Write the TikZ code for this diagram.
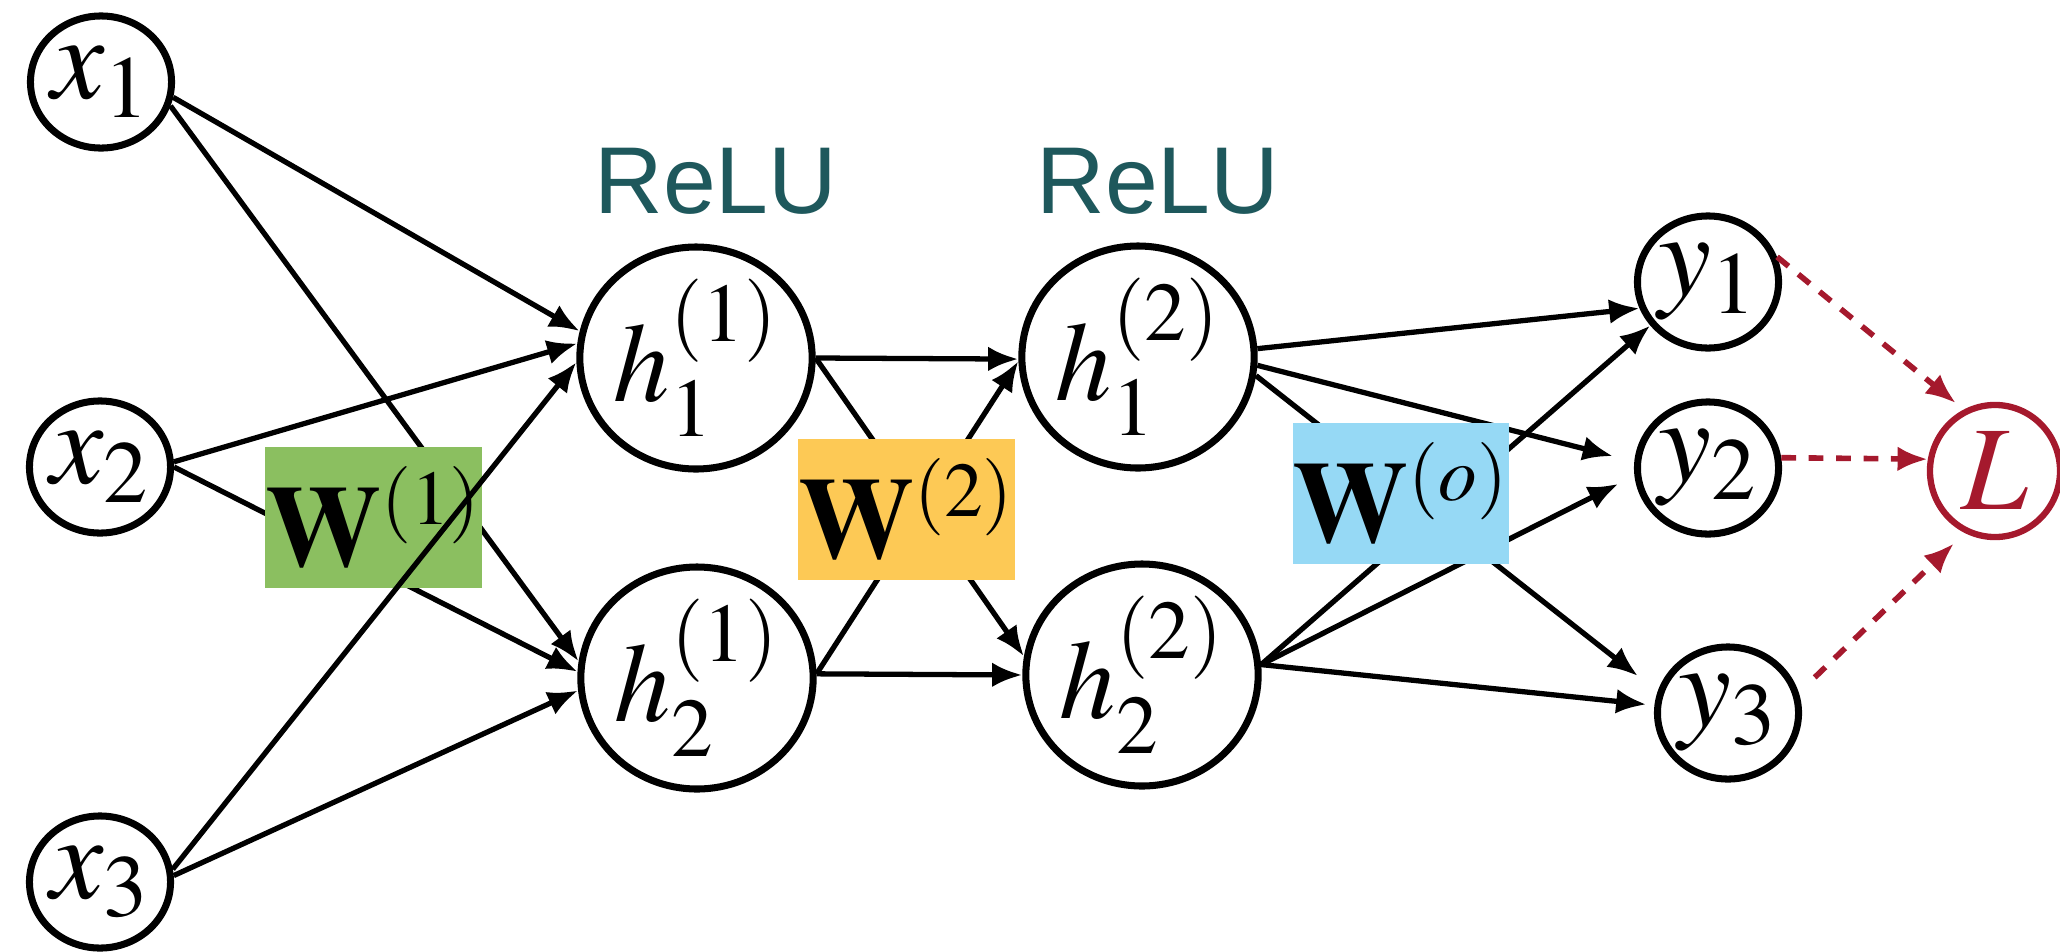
\documentclass[tikz,border=0pt]{standalone}
\usepackage{amsmath}
\usepackage{mathptmx}
\usepackage[no-math]{fontspec}
\newfontfamily\relufont{Liberation Sans}
\usepackage{tikz}
\usetikzlibrary{arrows.meta,shapes.geometric}
\DeclareMathSizes{33}{33}{22}{15}

\definecolor{wgreen}{RGB}{139,191,96}
\definecolor{worange}{RGB}{253,201,85}
\definecolor{wblue}{RGB}{150,217,245}
\definecolor{reluteal}{RGB}{30,88,92}
\definecolor{lossred}{RGB}{165,25,45}

\begin{document}
\begin{tikzpicture}[->, >={Latex[length=8.6pt,width=7pt]}, line width=1.5pt,
    x=0.01cm, y=-0.01cm,
    neuron/.style={ellipse, draw, line width=2pt, inner sep=0pt,
      minimum width=1.41cm, minimum height=1.32cm, font=\fontsize{34}{40}\selectfont},
    hneuron/.style={neuron, minimum width=1.88cm, minimum height=1.83cm,
      font=\fontsize{32}{38}\selectfont},
    loss/.style={neuron, draw=lossred, text=lossred, line width=1.8pt,
      minimum width=1.30cm, minimum height=1.32cm},
    wbox/.style={fill=#1, minimum width=2.15cm, minimum height=1.41cm, inner sep=0pt,
      font=\fontsize{33}{40}\selectfont},
    relu/.style={text=reluteal, font={\relufont\fontsize{27}{32}\selectfont}},
    lossedge/.style={draw=lossred, dash pattern=on 4.2pt off 3.6pt, line width=1.6pt}]
  \useasboundingbox (0,0) rectangle (2060,951);

  \node[neuron]  (x1)  at (101,82)  {$x_1$};
  \node[neuron]  (x2)  at (100,467) {$x_2$};
  \node[neuron]  (x3)  at (100,882) {$x_3$};
  \node[hneuron] (h11) at (696,358) {$h_1^{(1)}$};
  \node[hneuron] (h21) at (697,678) {$h_2^{(1)}$};
  \node[hneuron] (h12) at (1138,357) {$h_1^{(2)}$};
  \node[hneuron] (h22) at (1142,675) {$h_2^{(2)}$};
  \node[neuron]  (y1)  at (1708,282) {$y_1$};
  \node[neuron]  (y2)  at (1708,468) {$y_2$};
  \node[neuron]  (y3)  at (1728,713) {$y_3$};
  \node[loss]    (L)   at (1995,471) {$L$};

  \node[relu] (relu1) at (716,181)  {ReLU};
  \node[relu] (relu2) at (1158,181) {ReLU};

  \path (x1.-12) edge (h11.167)
        (x1.-19) edge (h21.172)
        (x2.4)   edge (h11.173)
        (x2.0)   edge (h21.177)
        (h11.0)  edge (h12.181)
                 edge (h22.171)
        (h21.2)  edge (h12.182)
                 edge (h22.180)
        (h12.4)  edge (y1.201)
        (h12.-4) edge [shorten >=0.22cm] (y2.175)
        (h12.-9) edge [shorten >=0.25cm] (y3.163)
        (h22.5)  edge (y1.217)
                 edge [shorten >=0.18cm] (y2.186)
                 edge [shorten >=0.08cm] (y3.174);

  % weight boxes sit on top of the crossing lines
  \node[wbox=wgreen]  (w1) at (373.5,517.5) {$\mathbf{W}^{(1)}$};
  \node[wbox=worange] (w2) at (906.5,509.5) {$\mathbf{W}^{(2)}$};
  \node[wbox=wblue]   (wo) at (1401,493.5)  {$\mathbf{W}^{(o)}$};

  \path (x3.10) edge (h11.182)
        (x3.5)  edge (h21.186);

  \path (y1.20) edge [lossedge, shorten >=0.1cm] (L.117)
        (y2.8)  edge [lossedge] (L.170)
        (y3.16) edge [lossedge, shorten <=0.22cm, shorten >=0.15cm] (L.244);
\end{tikzpicture}
\end{document}
